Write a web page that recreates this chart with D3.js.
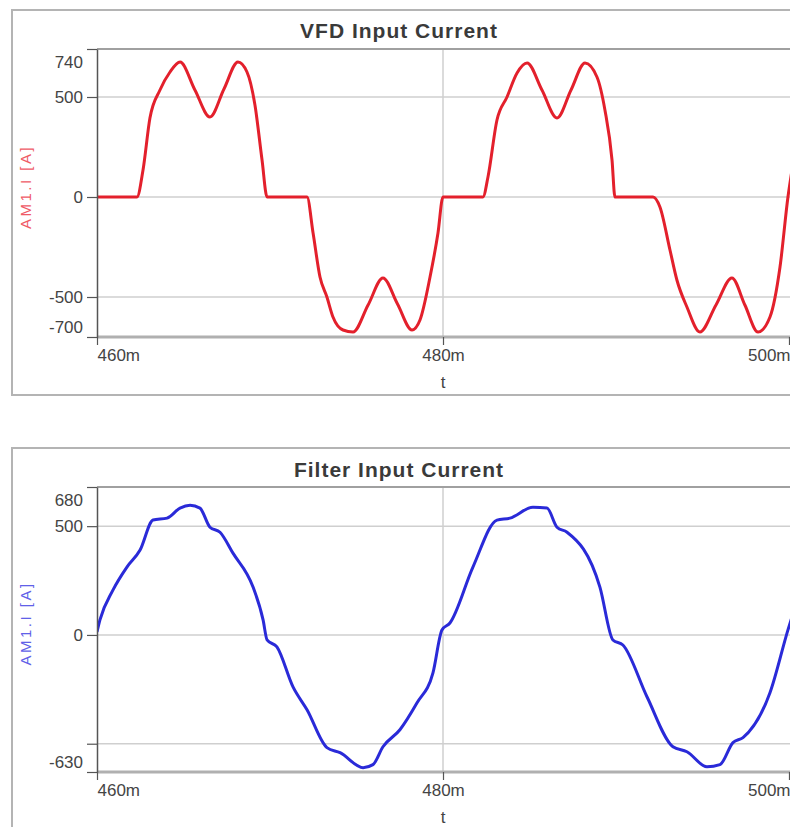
<!DOCTYPE html>
<html>
<head>
<meta charset="utf-8">
<script src="https://cdn.jsdelivr.net/npm/d3@7"></script>
<style>
  body { margin: 0; background: #fff; }
  svg { display: block; font-family: "Liberation Sans", Arial, sans-serif; }
</style>
</head>
<body>
<div id="chart"></div>
<script>
// time axis, in ms
const xTicks = [460, 480, 500];

// VFD input current (A)
const vfdTime = [460, 462.31, 462.66, 463.06, 463.64, 464.22, 464.8, 465.66, 466.53, 467.34, 468.15,
  468.67, 469.13, 469.54, 469.83, 472.14, 472.49, 472.89, 473.29, 473.64, 474.22, 474.8, 475.67,
  476.53, 477.37, 478.21, 478.67, 479.25, 479.71, 480, 482.31, 482.6, 483.12, 483.7, 484.28,
  484.86, 485.72, 486.59, 487.4, 488.21, 488.9, 489.36, 489.77, 489.94, 492.14, 492.54, 493.12,
  493.52, 494.1, 494.85, 495.78, 496.7, 497.45, 498.21, 498.9, 499.48, 499.94, 500.2];
const vfdCurrent = [0, 0, 135, 395, 535, 625, 675, 535, 400, 540, 675,
  625, 460, 185, 0, 0, -180, -400, -500, -600, -665, -675, -540,
  -405, -535, -665, -615, -400, -180, 0, 0, 100, 385, 500, 620,
  670, 535, 395, 535, 670, 600, 435, 185, 0, 0, -50, -265,
  -415, -550, -675, -540, -405, -540, -675, -600, -350, 0, 150];
const vfdYTicks = [740, 500, 0, -500, -700];

// Filter input current (A)
const filterTime = [460, 460.17, 460.92, 461.73, 462.49, 463.24, 464.05, 464.8, 465.38, 465.95,
  466.53, 467.11, 467.86, 469.02, 469.6, 469.83, 470.4, 471.33, 472.14, 473.29, 474.05, 475.38,
  475.95, 476.53, 477.51, 478.5, 479.42, 479.94, 480.4, 481.73, 483.12, 483.87, 485.2, 486.01,
  486.59, 487.17, 489.07, 489.82, 490.4, 491.79, 493.29, 494.1, 495.26, 496.01, 496.76, 497.34,
  498.9, 499.94, 500.2];
const filterCurrent = [14, 69, 206, 312, 390, 528, 537, 583, 596, 583,
  495, 472, 376, 220, 69, -23, -55, -239, -344, -518, -541, -610,
  -596, -514, -436, -312, -174, 23, 55, 312, 528, 537, 587, 583,
  495, 472, 220, -23, -46, -284, -514, -537, -606, -596, -495, -472,
  -266, 23, 90];
const filterYTicks = [680, 500, 0, -500, -630];

const W = 790, H = 827;

const svg = d3.select("#chart").append("svg")
  .attr("width", W)
  .attr("height", H);

function drawPanel(p) {
  const g = svg.append("g");

  // outer frame
  g.append("rect")
    .attr("x", p.frame[0]).attr("y", p.frame[1])
    .attr("width", p.frame[2]).attr("height", p.frame[3])
    .attr("fill", "none")
    .attr("stroke", "#b4b4b4")
    .attr("stroke-width", 2);

  g.append("text")
    .attr("x", 399)
    .attr("y", p.titleY)
    .attr("text-anchor", "middle")
    .attr("font-size", 21)
    .attr("font-weight", "bold")
    .attr("letter-spacing", 1)
    .attr("fill", "#3a3a3a")
    .text(p.title);

  const x = d3.scaleLinear().domain([460, 500]).range([97, 789]);
  const y = d3.scaleLinear().domain(p.yDomain).range([p.bottom, p.top]);

  // grid
  g.selectAll("line.hgrid")
    .data(p.yTicks.slice(1, -1))
    .enter().append("line")
    .attr("class", "hgrid")
    .attr("x1", x(460)).attr("x2", W)
    .attr("y1", d => y(d)).attr("y2", d => y(d))
    .attr("stroke", "#cfcfcf")
    .attr("stroke-width", 1.5);

  g.append("line")
    .attr("x1", x(480)).attr("x2", x(480))
    .attr("y1", p.top).attr("y2", p.bottom)
    .attr("stroke", "#cfcfcf")
    .attr("stroke-width", 1.5);

  // plot top border and bottom base line
  g.append("line")
    .attr("x1", x(460)).attr("x2", W)
    .attr("y1", p.top).attr("y2", p.top)
    .attr("stroke", "#a0a0a0")
    .attr("stroke-width", 2);
  g.append("line")
    .attr("x1", x(460)).attr("x2", W)
    .attr("y1", p.bottom).attr("y2", p.bottom)
    .attr("stroke", "#b0b0b0")
    .attr("stroke-width", 3);

  // clip for the trace
  const clipId = "clip-" + p.key;
  svg.append("clipPath").attr("id", clipId)
    .append("rect")
    .attr("x", x(460)).attr("y", p.top - 4)
    .attr("width", W - x(460)).attr("height", p.bottom - p.top + 8);

  const pts = p.time.map((t, i) => [t, p.values[i]]);
  const line = d3.line()
    .x(d => x(d[0]))
    .y(d => y(d[1]))
    .curve(d3.curveMonotoneX);

  g.append("path")
    .datum(pts)
    .attr("clip-path", `url(#${clipId})`)
    .attr("fill", "none")
    .attr("stroke", p.color)
    .attr("stroke-width", 3)
    .attr("stroke-linejoin", "round")
    .attr("d", line);

  // y axis
  const yAxis = g.append("g")
    .attr("transform", `translate(${x(460)},0)`)
    .call(d3.axisLeft(y)
      .tickValues(p.yTicks)
      .tickSize(10)
      .tickSizeOuter(0)
      .tickPadding(4)
      .tickFormat(d => p.hideLabels.includes(d) ? "" : d));
  yAxis.select(".domain").attr("stroke", "#555").attr("stroke-width", 1.5);
  yAxis.selectAll(".tick line").attr("stroke", "#555").attr("stroke-width", 1.2);
  yAxis.selectAll(".tick text")
    .attr("font-size", 17)
    .attr("fill", "#444")
    .attr("font-family", "Liberation Sans, Arial, sans-serif")
    .attr("dy", d => d === p.yTicks[0] ? "1.1em" : d === p.yTicks[p.yTicks.length - 1] ? "-0.25em" : "0.32em");

  // x axis
  const xAxis = g.append("g")
    .attr("transform", `translate(0,${p.bottom})`)
    .call(d3.axisBottom(x)
      .tickValues(xTicks)
      .tickSize(8)
      .tickSizeOuter(0)
      .tickPadding(4)
      .tickFormat(d => d + "m"));
  xAxis.select(".domain").remove();
  xAxis.selectAll(".tick line").attr("stroke", "#555").attr("stroke-width", 1.2);
  xAxis.selectAll(".tick text")
    .attr("font-size", 17)
    .attr("fill", "#444")
    .attr("font-family", "Liberation Sans, Arial, sans-serif")
    .attr("text-anchor", (d, i) => i === 0 ? "start" : i === xTicks.length - 1 ? "end" : "middle")
    .attr("dx", (d, i) => i === xTicks.length - 1 ? 1 : 0);

  g.append("text")
    .attr("x", x(480))
    .attr("y", p.bottom + 51)
    .attr("text-anchor", "middle")
    .attr("font-size", 17)
    .attr("fill", "#444")
    .text("t");

  // y label
  const ly = (p.top + p.bottom) / 2 - 6;
  g.append("text")
    .attr("transform", `translate(31,${ly}) rotate(-90)`)
    .attr("text-anchor", "middle")
    .attr("font-size", 15)
    .attr("letter-spacing", 2.5)
    .attr("fill", p.labelColor)
    .text("AM1.I [A]");
}

drawPanel({
  key: "vfd",
  title: "VFD Input Current",
  frame: [12, 10, 800, 385],
  titleY: 38,
  top: 49, bottom: 337,
  yDomain: [-700, 740],
  yTicks: vfdYTicks,
  hideLabels: [],
  time: vfdTime,
  values: vfdCurrent,
  color: "#e3202c",
  labelColor: "#ef5a66"
});

drawPanel({
  key: "filter",
  title: "Filter Input Current",
  frame: [12, 448, 800, 420],
  titleY: 477,
  top: 487, bottom: 772,
  yDomain: [-630, 680],
  yTicks: filterYTicks,
  hideLabels: [-500],
  time: filterTime,
  values: filterCurrent,
  color: "#2a2ad8",
  labelColor: "#6060e8"
});
</script>
</body>
</html>
